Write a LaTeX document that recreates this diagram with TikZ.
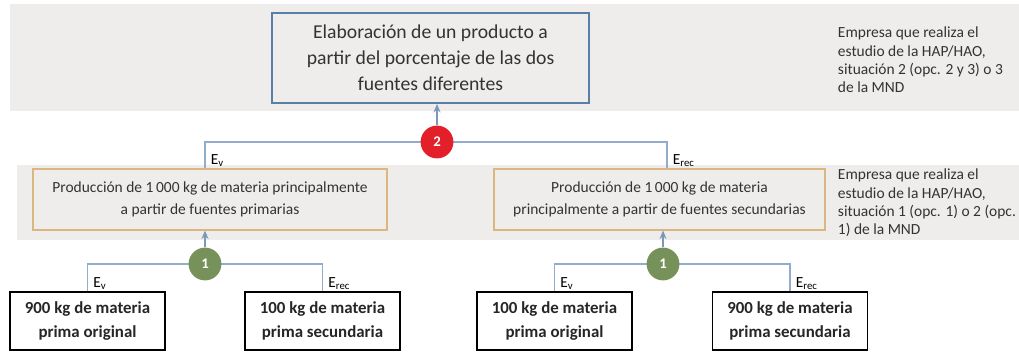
\documentclass[tikz,border=0pt]{standalone}
\usepackage{fontspec}
\setmainfont{Carlito}
\usetikzlibrary{arrows.meta}

\definecolor{bandgray}{HTML}{EFEDEB}
\definecolor{topblue}{HTML}{5A7FA6}
\definecolor{linkblue}{HTML}{92ADCC}
\definecolor{boxtan}{HTML}{D9B77E}
\definecolor{redmark}{HTML}{E3202A}
\definecolor{greenmark}{HTML}{76925A}

\begin{document}
\begin{tikzpicture}[x=0.025cm,y=-0.025cm,>=Stealth,
    topbox/.style={draw=topblue,line width=1.4pt,fill=bandgray,minimum width=7.925cm,minimum height=2.25cm,
      align=center,font=\fontsize{14}{18.5}\selectfont,text=black!80},
    midbox/.style={draw=boxtan,line width=0.8pt,fill=bandgray,minimum height=1.525cm,
      align=center,font=\fontsize{11}{15.5}\selectfont,text=black!80},
    rawbox/.style={draw=black,line width=1.1pt,fill=white,minimum width=3.875cm,minimum height=1.45cm,
      align=center,font=\bfseries\fontsize{12}{16.5}\selectfont,text=black!85},
    mark/.style={circle,fill=#1,minimum size=0.82cm,inner sep=0pt,text=white,font=\bfseries\fontsize{10.5}{12}\selectfont},
    link/.style={linkblue,line width=0.8pt},
    tip/.style={link,-{Stealth[length=6pt,width=5pt]},topblue!80},
    elab/.style={font=\fontsize{11}{13}\selectfont,inner sep=1pt,anchor=south west},
    note/.style={anchor=west,align=left,font=\fontsize{11}{13}\selectfont,text=black!80}]
  \useasboundingbox (0,0) rectangle (1019,352);

  % grey bands for the two levels
  \fill[bandgray] (10,4) rectangle (1019,111);
  \fill[bandgray] (17,165) rectangle (1019,240);

  % final product
  \node[topbox] (prod) at (430.5,58) {Elaboración de un producto a\\partir del porcentaje de las dos\\fuentes diferentes};
  \node[note] (note2) at (833,60) {Empresa que realiza el\\estudio de la HAP/HAO,\\situación 2 (opc. 2 y 3) o 3\\de la MND};

  % intermediate productions
  \node[midbox,minimum width=8.85cm] (prim) at (210,199.5) {Producción de 1\,000 kg de materia principalmente\\a partir de fuentes primarias};
  \node[midbox,minimum width=8.275cm] (sec) at (659.5,199.5) {Producción de 1\,000 kg de materia\\principalmente a partir de fuentes secundarias};
  \node[note] (note1) at (833,203) {Empresa que realiza el\\estudio de la HAP/HAO,\\situación 1 (opc. 1) o 2 (opc.\\1) de la MND};

  % raw materials
  \node[rawbox] (rawA) at (87.5,321) {900 kg de materia\\prima original};
  \node[rawbox] (rawB) at (322.5,321) {100 kg de materia\\prima secundaria};
  \node[rawbox] (rawC) at (554.5,321) {100 kg de materia\\prima original};
  \node[rawbox] (rawD) at (790,321) {900 kg de materia\\prima secundaria};

  % level 2 junction
  \coordinate (ev2) at (205,142);
  \coordinate (erec2) at (667,142);
  \draw[link] (prim.north -| ev2) -- (ev2) -- (erec2) -- (sec.north -| erec2);
  \node[elab] (lev2) at ([xshift=3pt]prim.north -| ev2) {E\textsubscript{v}};
  \node[elab] (lrec2) at ([xshift=3pt]sec.north -| erec2) {E\textsubscript{rec}};
  \node[mark=redmark] (m2) at (437,142) {2};
  \draw[tip] (m2) -- (prod.south -| m2);

  % level 1 junctions
  \coordinate (evA) at (rawA.north |- 0,264);
  \coordinate (erecB) at (rawB.north |- 0,264);
  \draw[link] (rawA.north) -- (evA) -- (erecB) -- (rawB.north);
  \node[elab] (lvA) at ([xshift=3pt]rawA.north) {E\textsubscript{v}};
  \node[elab] (lrecB) at ([xshift=3pt]rawB.north) {E\textsubscript{rec}};
  \node[mark=greenmark] (m1a) at (205,264) {1};
  \draw[tip] (m1a) -- (prim.south -| m1a);

  \coordinate (evC) at (rawC.north |- 0,264);
  \coordinate (erecD) at (rawD.north |- 0,264);
  \draw[link] (rawC.north) -- (evC) -- (erecD) -- (rawD.north);
  \node[elab] (lvC) at ([xshift=3pt]rawC.north) {E\textsubscript{v}};
  \node[elab] (lrecD) at ([xshift=3pt]rawD.north) {E\textsubscript{rec}};
  \node[mark=greenmark] (m1b) at (663,264) {1};
  \draw[tip] (m1b) -- (sec.south -| m1b);
\end{tikzpicture}
\end{document}
